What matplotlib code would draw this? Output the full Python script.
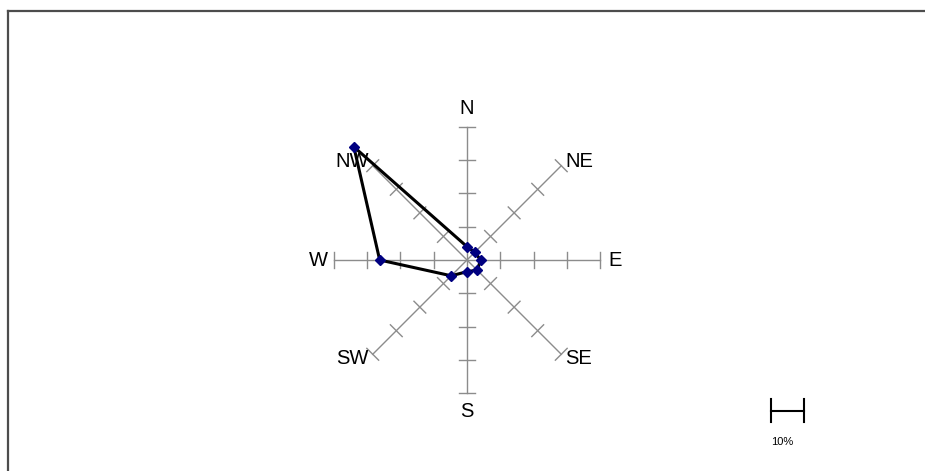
import matplotlib
matplotlib.use('Agg')
import matplotlib.pyplot as plt
from matplotlib.lines import Line2D
import numpy as np

plt.rcParams['font.family'] = ['Liberation Sans', 'DejaVu Sans']

# Dados: frequência por direção (%)
directions = ['N', 'NE', 'E', 'SE', 'S', 'SW', 'W', 'NW']
angles_deg = [90, 45, 0, -45, -90, -135, 180, 135]
values = [4.0, 3.3, 4.1, 4.3, 3.5, 6.7, 26.2, 48.0]
ring_ticks = [10, 20, 30, 40]
scale_value = 10

W, H = 925, 471
px = 3.333          # pixels por 1%
cx, cy = 467, 260   # centro em pixels (y de cima)

fig = plt.figure(figsize=(W / 100, H / 100), dpi=100)
ax = fig.add_axes([0, 0, 1, 1])
ax.set_xlim(-cx / px, (W - cx) / px)
ax.set_ylim(-(H - cy) / px, cy / px)
ax.set_aspect('equal')
ax.axis('off')

# Eixos radiais com marcas
rmax = ring_ticks[-1]
half = 2.5
for name, a in zip(directions, angles_deg):
    t = np.radians(a)
    ux, uy = np.cos(t), np.sin(t)
    ax.plot([0, rmax * ux], [0, rmax * uy], color='#8c8c8c', lw=1, zorder=1)
    for r in ring_ticks:
        bx, by = r * ux, r * uy
        ax.plot([bx - half * uy, bx + half * uy], [by + half * ux, by - half * ux],
                color='#8c8c8c', lw=1, zorder=1)
    if a in (90, -90):
        ax.text(0, 45.5 * uy, name, ha='center', va='center', fontsize=14.5)
    elif a in (0, 180):
        ax.text(44.5 * ux, 0, name, ha='center', va='center', fontsize=14.5)
    else:
        ax.text(41.6 * ux, 41.6 * uy, name, ha='left' if ux > 0 else 'right',
                va='center', fontsize=14.5)

# Polígono dos dados
th = np.radians(angles_deg)
xs = np.array(values) * np.cos(th)
ys = np.array(values) * np.sin(th)
ax.plot(np.append(xs, xs[0]), np.append(ys, ys[0]), color='black', lw=2.2, zorder=2)
ax.plot(xs, ys, 'D', color='#000080', markersize=5.5, zorder=3)

# Barra de escala
sx, sy = 91.1, -45.2
ax.plot([sx, sx + scale_value], [sy, sy], color='black', lw=1.5)
ax.plot([sx, sx], [sy - 3.4, sy + 3.4], color='black', lw=1.5)
ax.plot([sx + scale_value, sx + scale_value], [sy - 3.4, sy + 3.4], color='black', lw=1.5)
ax.text(sx + scale_value / 2 - 1.5, -54.5, f'{scale_value}%', ha='center', va='center', fontsize=8)

# Moldura (superior e esquerda)
fig.add_artist(Line2D([8 / W, 8 / W], [0, 1 - 11 / H], color='#4d4d4d', lw=1.6,
                      transform=fig.transFigure))
fig.add_artist(Line2D([8 / W, 1], [1 - 11 / H, 1 - 11 / H], color='#4d4d4d', lw=1.6,
                      transform=fig.transFigure))

fig.savefig('out.png', dpi=100, facecolor='white')
